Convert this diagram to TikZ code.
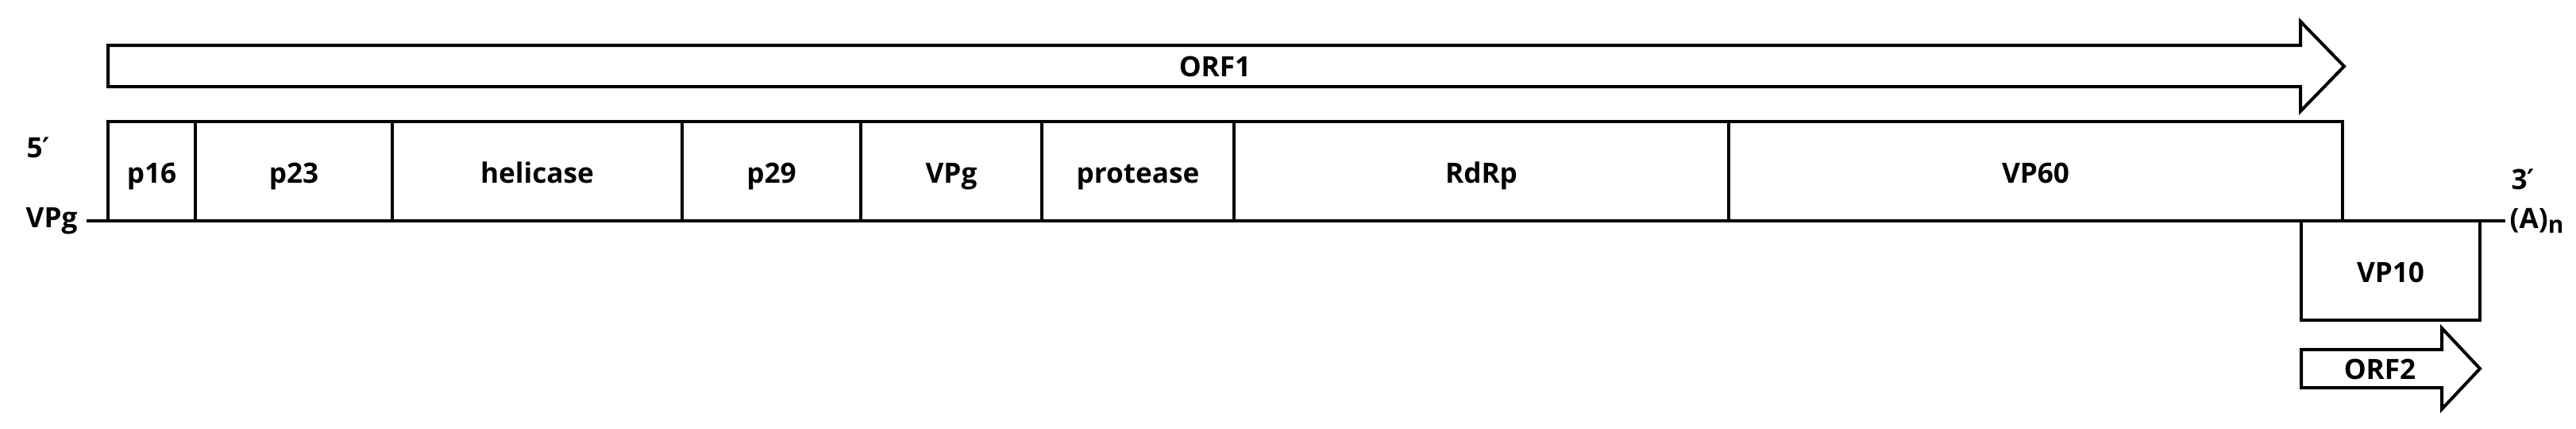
\documentclass[tikz,border=0pt]{standalone}
\usepackage{fontspec}
\setmainfont{Open Sans}
\newfontfamily\primefont{DejaVu Sans}
\usetikzlibrary{positioning}
\tikzset{
  lbl/.style={font=\bfseries\fontsize{10}{11}\selectfont, inner sep=0pt},
  seg/.style={lbl, draw, line width=0.04cm, outer sep=0pt, minimum height=1.25cm,
              text height=0.29cm, text depth=0cm},
  outline/.style={line width=0.04cm, line join=miter},
}
\newcommand{\prm}{{\primefont\bfseries ′}}
\begin{document}
\begin{tikzpicture}
    \useasboundingbox (0,0) rectangle (32.44,-5.39);

    % ORF1
    \draw[outline] (1.36,-0.57) -- (28.97,-0.57) -- (28.97,-0.27) -- (29.52,-0.835)
                   -- (28.97,-1.40) -- (28.97,-1.09) -- (1.36,-1.09) -- cycle;
    \node[lbl, anchor=base] (orf1) at (15.30,-0.96) {ORF1};

    % genome
    \coordinate (five) at (1.09,-2.78);
    \coordinate (three) at (31.55,-2.78);
    \draw[outline] (five) -- (three);

    \node[seg, minimum width=1.10cm, anchor=south west] (p16) at (1.36,-2.78) {p16};
    \node[seg, minimum width=2.48cm, right=0pt of p16] (p23) {p23};
    \node[seg, minimum width=3.65cm, right=0pt of p23] (hel) {helicase};
    \node[seg, minimum width=2.25cm, right=0pt of hel] (p29) {p29};
    \node[seg, minimum width=2.28cm, right=0pt of p29] (vpg) {VPg};
    \node[seg, minimum width=2.42cm, right=0pt of vpg] (pro) {protease};
    \node[seg, minimum width=6.23cm, right=0pt of pro] (rdrp) {RdRp};
    \node[seg, minimum width=7.73cm, right=0pt of rdrp] (vp60) {VP60};
    \node[seg, minimum width=2.25cm, anchor=north west] (vp10) at (28.98,-2.78) {VP10};

    \node[lbl, anchor=base west] (end5) at (0.33,-1.98) {5\prm};
    \node[lbl, anchor=base west] (cap5) at (0.32,-2.86) {VPg};
    \node[lbl, anchor=base west] (end3) at (31.62,-2.38) {3\prm};
    \node[lbl, anchor=base west] (tail3) at (31.60,-2.87)
        {(A){\fontsize{8.5}{9}\selectfont\raisebox{-0.6mm}{n}}};

    % ORF2
    \draw[outline] (28.98,-4.40) -- (30.75,-4.40) -- (30.75,-4.13) -- (31.23,-4.64)
                   -- (30.75,-5.15) -- (30.75,-4.88) -- (28.98,-4.88) -- cycle;
    \node[lbl, anchor=base] (orf2) at (29.97,-4.77) {ORF2};
\end{tikzpicture}
\end{document}
